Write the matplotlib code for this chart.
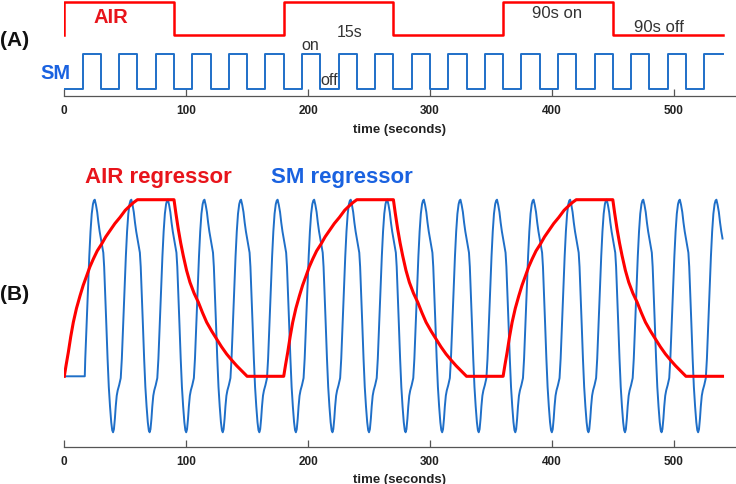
import matplotlib.pyplot as plt

plt.rcParams['font.family'] = ['Liberation Sans', 'DejaVu Sans']

# block design (seconds)
air_switch_times = [0, 90, 180, 270, 360, 450, 540]
air_states = [1, 0, 1, 0, 1, 0, 0]
sm_switch_times = [0, 15, 30, 45, 60, 75, 90, 105, 120, 135, 150, 165, 180, 195, 210, 225,
                   240, 255, 270, 285, 300, 315, 330, 345, 360, 375, 390, 405, 420, 435,
                   450, 465, 480, 495, 510, 525, 540]
sm_states = [0, 1] * 18 + [1]

# AIR regressor: one 180 s block (offset s, value)
air_block_starts = [0, 180, 360]
air_prof_t = [0, 1.5, 3.3, 5.3, 7.4, 10, 12.9, 15.5, 18.4, 21, 23.8, 27, 30.7, 34, 37.5,
              41.5, 45.7, 50, 53.9, 57, 60, 90,
              91.5, 93.5, 95.5, 97.6, 100.3, 103.1, 106.5, 110, 113.4, 116.8, 121, 125,
              129, 133.2, 137.3, 141.4, 145.7, 150, 180]
air_prof_v = [0, 0.064, 0.136, 0.225, 0.306, 0.385, 0.456, 0.515, 0.57, 0.62, 0.664,
              0.71, 0.75, 0.79, 0.825, 0.865, 0.90, 0.94, 0.966, 0.985, 1.0, 1.0,
              0.925, 0.834, 0.755, 0.683, 0.60, 0.532, 0.47, 0.419, 0.36, 0.306, 0.255,
              0.211, 0.167, 0.126, 0.092, 0.06, 0.03, 0, 0]

# SM regressor: one 30 s cycle, starting at a trough
sm_troughs = [10, 40, 70, 100, 130, 160, 190, 220, 250, 280, 310, 340, 370, 400,
              430, 460, 490, 520]
sm_prof_t = [0, 0.7, 1.5, 2.2, 3.0, 3.8, 5.0, 6.3, 7.2, 8.3, 9.4, 10.5, 11.5, 12.5,
             13.5, 14.3, 15, 16, 17, 18, 19, 20, 21, 22, 22.7, 23.5, 24.5, 25.5,
             26.5, 27.5, 28.5, 29.3]
sm_prof_v = [-0.317, -0.30, -0.24, -0.17, -0.11, -0.08, -0.05, -0.01, 0.10, 0.29,
             0.49, 0.68, 0.82, 0.92, 0.975, 0.995, 1.0, 0.97, 0.93, 0.87, 0.82, 0.78,
             0.74, 0.70, 0.62, 0.48, 0.29, 0.10, -0.06, -0.17, -0.26, -0.305]
sm_flat_end = 16.8

ticks = [0, 100, 200, 300, 400, 500]

RED = '#ff0000'
BLUE = '#1f6fc8'
TXT_RED = '#e8141b'
TXT_BLUE = '#1a62e0'
GRAY = '#333333'

W, H = 736, 485


def fx(x):
    return x / W


def fy(y):
    return 1 - y / H


def style_axis(ax):
    for s in ['top', 'right', 'left']:
        ax.spines[s].set_visible(False)
    ax.spines['bottom'].set_color('#555555')
    ax.spines['bottom'].set_linewidth(0.9)
    ax.set_yticks([])
    ax.set_xticks(ticks)
    ax.set_xlim(0, 550)
    ax.tick_params(axis='x', direction='in', length=5, width=0.9, color='#555555',
                   pad=6, labelsize=8.5, labelcolor='#222222')
    for lab in ax.get_xticklabels():
        lab.set_fontweight('bold')
    ax.set_xlabel('time (seconds)', fontsize=9.5, fontweight='bold', color='#222222',
                  labelpad=4.5)


fig = plt.figure(figsize=(7.36, 4.85), dpi=100)

# ---- (A) design ----
ax1 = fig.add_axes([fx(64.3), fy(97), fx(734.7) - fx(64.3), 97 / H])
air_hi, air_lo = 2.49, 1.54
air_x = [0] + air_switch_times
air_y = [air_lo] + [air_hi if s else air_lo for s in air_states]
ax1.step(air_x, air_y, where='post', color=RED, lw=1.8)
ax1.step(sm_switch_times, sm_states, where='post', color=BLUE, lw=1.4)
ax1.set_ylim(-0.2, 2.571)
style_axis(ax1)

ax1.text(194.7, 1.143, 'on', fontsize=11.5, color=GRAY, va='baseline')
ax1.text(209.8, 0.143, 'off', fontsize=11.5, color=GRAY, va='baseline')
ax1.text(223.5, 1.523, '15s', fontsize=11.5, color=GRAY, va='baseline')
ax1.text(383.4, 2.05, '90s on', fontsize=12, color=GRAY, va='baseline')
ax1.text(467.3, 1.65, '90s off', fontsize=12, color=GRAY, va='baseline')

fig.text(fx(93), fy(22.7), 'AIR', fontsize=14.5, fontweight='bold', color=TXT_RED,
         va='baseline')
fig.text(fx(0), fy(40), '(A)', fontsize=15, fontweight='bold', color='#111111',
         va='center')
fig.text(fx(40), fy(79.3), 'SM', fontsize=14.5, fontweight='bold', color=TXT_BLUE,
         va='baseline')

# ---- (B) regressors ----
ax2 = fig.add_axes([fx(64.3), fy(447.5), fx(734.7) - fx(64.3), (447.5 - 190) / H])

air_t, air_v = [], []
for b in air_block_starts:
    for t, v in zip(air_prof_t, air_prof_v):
        air_t.append(b + t)
        air_v.append(v)

sm_t, sm_v = [0, sm_flat_end], [0, 0]
for tr in sm_troughs:
    for t, v in zip(sm_prof_t, sm_prof_v):
        if sm_flat_end < tr + t <= 540.5:
            sm_t.append(tr + t)
            sm_v.append(v)

ax2.plot(sm_t, sm_v, color=BLUE, lw=1.4)
ax2.plot(air_t, air_v, color=RED, lw=2.2)
ax2.set_ylim(-0.3975, 1.0606)
style_axis(ax2)

fig.text(fx(85), fy(183), 'AIR regressor', fontsize=16, fontweight='bold',
         color=TXT_RED, va='baseline')
fig.text(fx(413), fy(183), 'SM regressor', fontsize=16, fontweight='bold',
         color=TXT_BLUE, va='baseline', ha='right')
fig.text(fx(0), fy(295), '(B)', fontsize=15, fontweight='bold', color='#111111',
         va='center')

fig.savefig('out.png', dpi=100)
